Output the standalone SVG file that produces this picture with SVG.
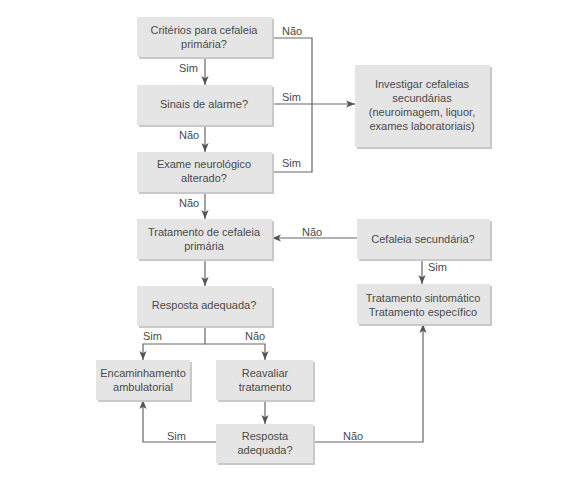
<svg xmlns="http://www.w3.org/2000/svg" width="585" height="479" viewBox="0 0 585 479">
<defs>
<style>
.sh{fill:#c9c9c9}
.bx{fill:#e5e5e5}
text{font-family:"Liberation Sans",Arial,sans-serif;font-size:11px;fill:#4a4a4a}
.c{text-anchor:middle}
.ln{fill:none;stroke:#666;stroke-width:1.2}
</style>
<marker id="ah" viewBox="0 0 10 10" refX="10" refY="5" markerWidth="9" markerHeight="9" markerUnits="userSpaceOnUse" orient="auto">
<path d="M0,1 L10,5 L0,9 L2.5,5 Z" fill="#555"/>
</marker>
</defs>
<rect width="585" height="479" fill="#fff"/>
<g id="connectors">
<path class="ln" d="M205,57 V85" marker-end="url(#ah)"/>
<path class="ln" d="M205,125 V152" marker-end="url(#ah)"/>
<path class="ln" d="M205,192 V219" marker-end="url(#ah)"/>
<path class="ln" d="M272,38 H312 V172 H272"/>
<path class="ln" d="M272,104 H355" marker-end="url(#ah)"/>
<path class="ln" d="M357,238 H272" marker-end="url(#ah)"/>
<path class="ln" d="M422,258 V284" marker-end="url(#ah)"/>
<path class="ln" d="M205,258 V286" marker-end="url(#ah)"/>
<path class="ln" d="M205,325 V344 H143 V360" marker-end="url(#ah)"/>
<path class="ln" d="M205,344 H265 V360" marker-end="url(#ah)"/>
<path class="ln" d="M265,400 V424" marker-end="url(#ah)"/>
<path class="ln" d="M216,442 H143 V400" marker-end="url(#ah)"/>
<path class="ln" d="M314,442 H423 V324" marker-end="url(#ah)"/>
<text x="282" y="35">Não</text>
<text x="282" y="101">Sim</text>
<text x="282" y="167">Sim</text>
<text x="179" y="72">Sim</text>
<text x="179" y="139">Não</text>
<text x="179" y="207">Não</text>
<text x="302" y="236">Não</text>
<text x="428" y="271">Sim</text>
<text x="143" y="340">Sim</text>
<text x="245" y="340">Não</text>
<text x="167" y="440">Sim</text>
<text x="343" y="440">Não</text>
</g>
<g id="n1"><rect class="sh" x="139" y="19" width="135" height="40"/><rect class="bx" x="137" y="17" width="135" height="40"/>
<text class="c" x="204" y="34">Critérios para cefaleia</text><text class="c" x="204" y="48">primária?</text></g>
<g id="n2"><rect class="sh" x="139" y="87" width="135" height="40"/><rect class="bx" x="137" y="85" width="135" height="40"/>
<text class="c" x="204" y="108">Sinais de alarme?</text></g>
<g id="n3"><rect class="sh" x="139" y="154" width="135" height="40"/><rect class="bx" x="137" y="152" width="135" height="40"/>
<text class="c" x="204" y="168">Exame neurológico</text><text class="c" x="204" y="182">alterado?</text></g>
<g id="n4"><rect class="sh" x="139" y="221" width="135" height="40"/><rect class="bx" x="137" y="219" width="135" height="40"/>
<text class="c" x="204" y="236">Tratamento de cefaleia</text><text class="c" x="204" y="250">primária</text></g>
<g id="n5"><rect class="sh" x="139" y="288" width="135" height="40"/><rect class="bx" x="137" y="286" width="135" height="40"/>
<text class="c" x="204" y="309">Resposta adequada?</text></g>
<g id="n6"><rect class="sh" x="98" y="362" width="94" height="40"/><rect class="bx" x="96" y="360" width="94" height="40"/>
<text class="c" x="143" y="377">Encaminhamento</text><text class="c" x="143" y="391">ambulatorial</text></g>
<g id="n7"><rect class="sh" x="218" y="362" width="97" height="40"/><rect class="bx" x="216" y="360" width="97" height="40"/>
<text class="c" x="265" y="377">Reavaliar</text><text class="c" x="265" y="391">tratamento</text></g>
<g id="n8"><rect class="sh" x="218" y="426" width="97" height="39"/><rect class="bx" x="216" y="424" width="97" height="39"/>
<text class="c" x="265" y="440">Resposta</text><text class="c" x="265" y="454">adequada?</text></g>
<g id="n9"><rect class="sh" x="357" y="67" width="135" height="82"/><rect class="bx" x="355" y="65" width="135" height="82"/>
<text class="c" x="422" y="88">Investigar cefaleias</text><text class="c" x="422" y="102">secundárias</text><text class="c" x="422" y="116">(neuroimagem, liquor,</text><text class="c" x="422" y="130">exames laboratoriais)</text></g>
<g id="n10"><rect class="sh" x="359" y="221" width="133" height="40"/><rect class="bx" x="357" y="219" width="133" height="40"/>
<text class="c" x="423" y="243">Cefaleia secundária?</text></g>
<g id="n11"><rect class="sh" x="359" y="286" width="133" height="40"/><rect class="bx" x="357" y="284" width="133" height="40"/>
<text class="c" x="423" y="302">Tratamento sintomático</text><text class="c" x="423" y="316">Tratamento específico</text></g>
</svg>
